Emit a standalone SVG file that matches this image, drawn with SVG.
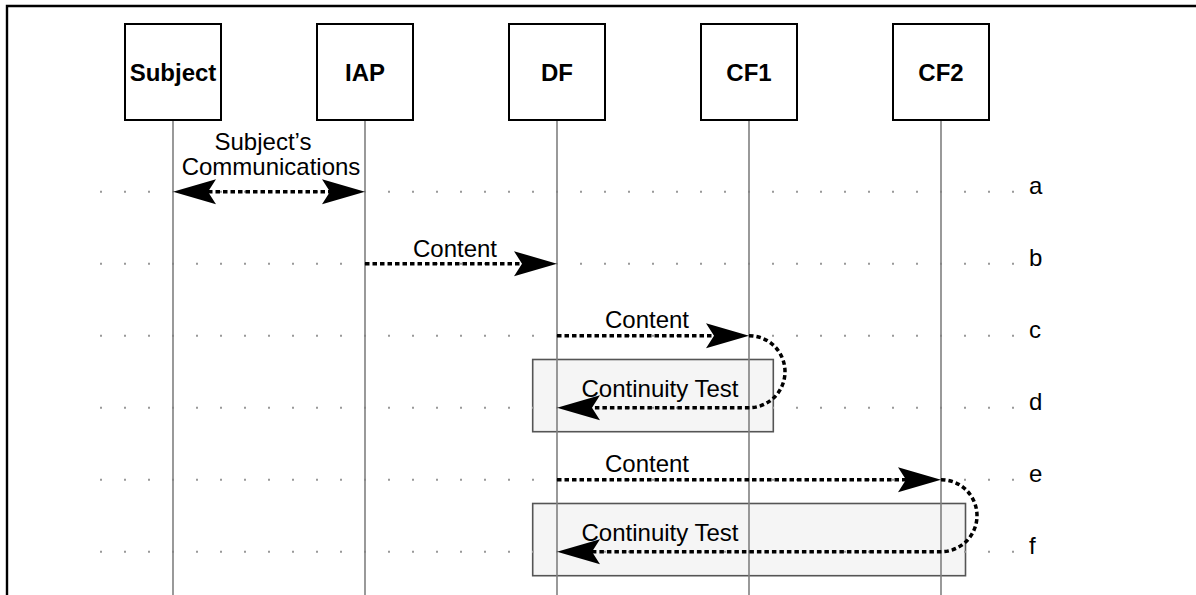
<svg xmlns="http://www.w3.org/2000/svg" width="1196" height="595" viewBox="0 0 1196 595">
<style>
  .box{fill:#fff;stroke:#000;stroke-width:2}
  .nodelbl{font-family:"Liberation Sans",Arial,sans-serif;font-size:24px;font-weight:bold;fill:#000;text-anchor:middle}
  .lbl{font-family:"Liberation Sans",Arial,sans-serif;font-size:24px;fill:#000}
  .mid{text-anchor:middle}
  .life{stroke:#808080;stroke-width:1.6;fill:none}
  .dots{stroke:#999;stroke-width:2;stroke-dasharray:2 22;fill:none}
  .msg{stroke:#000;stroke-width:3.5;stroke-dasharray:4.5 3;fill:none}
  .arrow{marker-end:url(#ah)}
  .ct{fill:#f5f5f5;stroke:#555;stroke-width:1.6}
</style>
<defs>
  <marker id="ah" markerUnits="userSpaceOnUse" orient="auto-start-reverse" refX="8" refY="0" markerWidth="44" markerHeight="26" overflow="visible">
    <path d="M43,0 L0,-12.5 L8,0 L0,12.5 Z" fill="#000"/>
  </marker>
</defs>
<rect width="1196" height="595" fill="#fff"/>
<path d="M7,595 V6 H1196" fill="none" stroke="#000" stroke-width="2.4"/>

<g id="continuity-boxes">
  <rect class="ct" x="532.7" y="359.5" width="240.6" height="72.2"/>
  <rect class="ct" x="532.7" y="503.5" width="432.8" height="72.2"/>
</g>

<g id="rows">
  <line class="dots" x1="100" y1="191.7" x2="1014" y2="191.7"/>
  <line class="dots" x1="100" y1="263.7" x2="1014" y2="263.7"/>
  <line class="dots" x1="100" y1="335.7" x2="1014" y2="335.7"/>
  <line class="dots" x1="100" y1="407.7" x2="1014" y2="407.7"/>
  <line class="dots" x1="100" y1="479.7" x2="1014" y2="479.7"/>
  <line class="dots" x1="100" y1="551.7" x2="1014" y2="551.7"/>
  <text class="lbl" x="1029" y="193.7">a</text>
  <text class="lbl" x="1029" y="265.7">b</text>
  <text class="lbl" x="1029" y="337.7">c</text>
  <text class="lbl" x="1029" y="409.7">d</text>
  <text class="lbl" x="1029" y="481.7">e</text>
  <text class="lbl" x="1029" y="553.7">f</text>
</g>

<g id="node-subject">
  <line class="life" x1="173" y1="120" x2="173" y2="595"/>
  <rect class="box" x="125" y="24" width="96" height="96"/>
  <text class="nodelbl" x="173" y="80.5">Subject</text>
</g>
<g id="node-iap">
  <line class="life" x1="365" y1="120" x2="365" y2="595"/>
  <rect class="box" x="317" y="24" width="96" height="96"/>
  <text class="nodelbl" x="365" y="80.5">IAP</text>
</g>
<g id="node-df">
  <line class="life" x1="557" y1="120" x2="557" y2="595"/>
  <rect class="box" x="509" y="24" width="96" height="96"/>
  <text class="nodelbl" x="557" y="80.5">DF</text>
</g>
<g id="node-cf1">
  <line class="life" x1="749" y1="120" x2="749" y2="595"/>
  <rect class="box" x="701" y="24" width="96" height="96"/>
  <text class="nodelbl" x="749" y="80.5">CF1</text>
</g>
<g id="node-cf2">
  <line class="life" x1="941" y1="120" x2="941" y2="595"/>
  <rect class="box" x="893" y="24" width="96" height="96"/>
  <text class="nodelbl" x="941" y="80.5">CF2</text>
</g>

<g id="connectors">
  <path class="msg arrow" d="M208,191.7 H330" marker-start="url(#ah)"/>
  <path class="msg arrow" d="M365,263.7 H522"/>
  <path class="msg arrow" d="M557,335.7 H714"/>
  <path class="msg arrow" d="M749,335.7 A36,36 0 0 1 749,407.7 H592"/>
  <path class="msg arrow" d="M557,479.7 H906"/>
  <path class="msg arrow" d="M941,479.7 A36,36 0 0 1 941,551.7 H592"/>
  <text class="lbl mid" x="263" y="150">Subject’s</text>
  <text class="lbl mid" x="271" y="175">Communications</text>
  <text class="lbl mid" x="455" y="256.7">Content</text>
  <text class="lbl mid" x="647" y="328">Content</text>
  <text class="lbl mid" x="660" y="397">Continuity Test</text>
  <text class="lbl mid" x="647" y="472">Content</text>
  <text class="lbl mid" x="660" y="541">Continuity Test</text>
</g>
</svg>
